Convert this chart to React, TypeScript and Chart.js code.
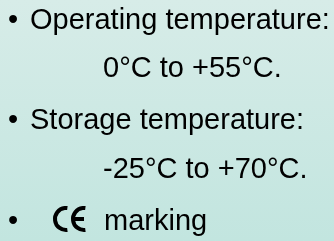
import React, { useEffect, useRef } from "react";
import { Chart, registerables } from "chart.js";

Chart.register(...registerables);

// Slide content
const lineTexts: string[] = [
  "Operating temperature:",
  "0°C to +55°C.",
  "Storage temperature:",
  "-25°C to +70°C.",
  "marking",
];
const lineIsBullet: boolean[] = [true, false, true, false, true];
const lineHasCE: boolean[] = [false, false, false, false, true];

const W = 334;
const H = 241;

const slidePlugin = {
  id: "slideText",
  beforeDraw(chart: any) {
    const ctx = chart.ctx as CanvasRenderingContext2D;
    ctx.save();
    const g = ctx.createLinearGradient(0, 0, 0, chart.height);
    g.addColorStop(0, "#d7ece8");
    g.addColorStop(1, "#c2e5df");
    ctx.fillStyle = g;
    ctx.fillRect(0, 0, chart.width, chart.height);
    ctx.restore();
  },
  afterDraw(chart: any) {
    const ctx = chart.ctx as CanvasRenderingContext2D;
    const baselines = [29, 77, 129, 178, 230];
    ctx.save();
    ctx.fillStyle = "#000000";
    ctx.strokeStyle = "#000000";
    ctx.font = '29px "Liberation Sans", Arial, sans-serif';
    ctx.textBaseline = "alphabetic";
    ctx.textAlign = "left";
    lineTexts.forEach((t, i) => {
      const y = baselines[i];
      if (lineIsBullet[i]) {
        ctx.fillText("\u2022", 8, y);
      }
      let x = lineIsBullet[i] && !lineHasCE[i] ? 30 : 103;
      if (lineHasCE[i]) {
        // CE mark
        const cy = y - 11;
        const r = 11;
        ctx.lineWidth = 4;
        ctx.lineCap = "butt";
        ctx.beginPath();
        ctx.arc(55 + r, cy, r, Math.PI * 0.46, Math.PI * 1.54);
        ctx.stroke();
        ctx.beginPath();
        ctx.arc(73 + r, cy, r, Math.PI * 0.46, Math.PI * 1.54);
        ctx.stroke();
        ctx.beginPath();
        ctx.moveTo(73, cy);
        ctx.lineTo(73 + r, cy);
        ctx.stroke();
        x = 104;
      }
      ctx.fillText(t, x, y);
    });
    ctx.restore();
  },
};

export default function App() {
  const ref = useRef<HTMLCanvasElement | null>(null);
  useEffect(() => {
    document.body.style.margin = "0";
    const canvas = ref.current!;
    const chart = new Chart(canvas, {
      type: "scatter",
      data: { datasets: [] },
      options: {
        animation: false,
        responsive: false,
        maintainAspectRatio: false,
        devicePixelRatio: 1,
        layout: { padding: 0 },
        plugins: { legend: { display: false }, tooltip: { enabled: false }, title: { display: false } },
        scales: { x: { display: false }, y: { display: false } },
      },
      plugins: [slidePlugin],
    });
    return () => chart.destroy();
  }, []);
  return (
    <div style={{ position: "absolute", left: 0, top: 0, width: W, height: H }}>
      <canvas ref={ref} width={W} height={H} style={{ width: W, height: H, display: "block" }} />
    </div>
  );
}
